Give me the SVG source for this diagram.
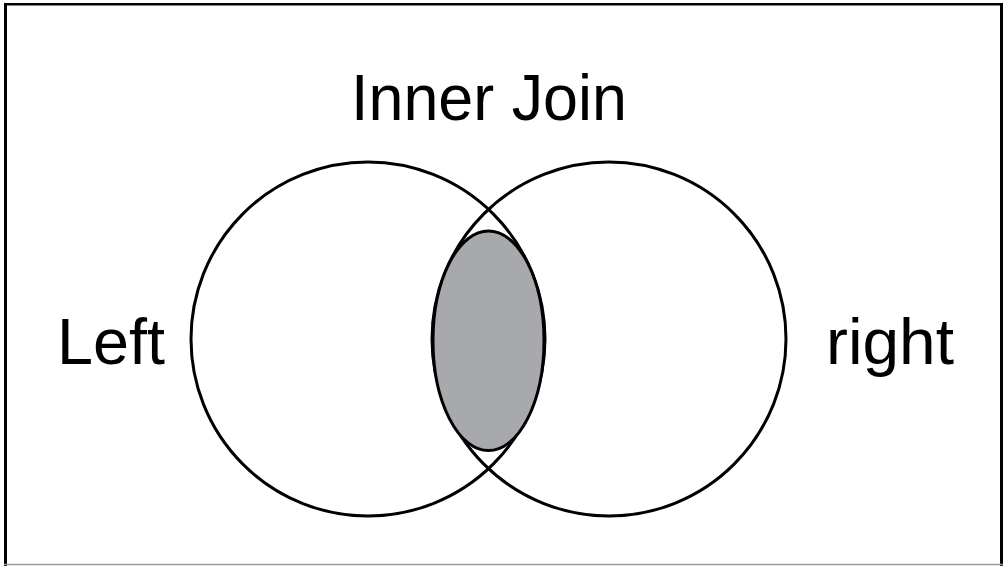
<svg xmlns="http://www.w3.org/2000/svg" width="1003" height="566" viewBox="0 0 1003 566">
<style>
.set{fill:none;stroke:#000;stroke-width:3}
.lbl{font-family:"Liberation Sans",Arial,sans-serif;font-size:65px;fill:#000}
</style>
<rect width="1003" height="566" fill="#fff"/>
<g id="frame">
<line x1="5.5" y1="3" x2="5.5" y2="566" stroke="#000" stroke-width="3"/>
<line x1="4" y1="4.2" x2="1003" y2="4.2" stroke="#000" stroke-width="2.5"/>
<line x1="1001.5" y1="3" x2="1001.5" y2="566" stroke="#000" stroke-width="3"/>
<line x1="4" y1="564.5" x2="1003" y2="564.5" stroke="#9a9a9a" stroke-width="1.5"/>
</g>
<g id="left-set">
<circle class="set" cx="368" cy="339" r="177"/>
<text class="lbl" x="57" y="364" textLength="108" lengthAdjust="spacingAndGlyphs">Left</text>
</g>
<g id="right-set">
<circle class="set" cx="609" cy="339" r="177"/>
<text class="lbl" x="826" y="364" textLength="128" lengthAdjust="spacingAndGlyphs">right</text>
</g>
<g id="inner-join">
<ellipse cx="488.5" cy="340.8" rx="55.5" ry="109.8" fill="#a8a9ac" stroke="#000" stroke-width="3"/>
<text class="lbl" x="351" y="120" textLength="276" lengthAdjust="spacingAndGlyphs">Inner Join</text>
</g>
</svg>
